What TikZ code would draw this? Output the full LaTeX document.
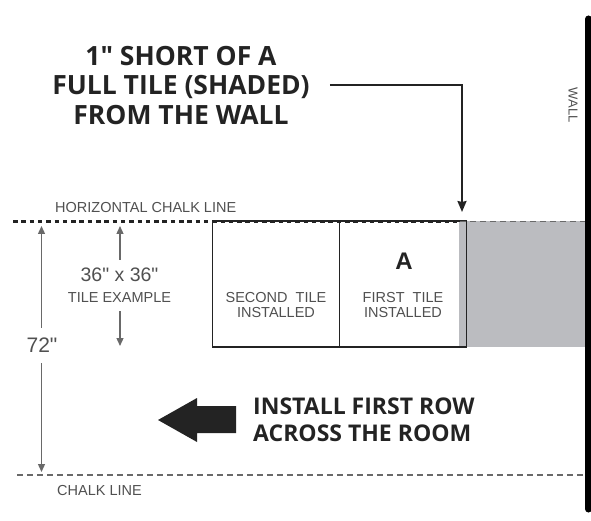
\documentclass[tikz,border=0pt]{standalone}
\usepackage{fontspec}
\setmainfont{Liberation Sans}[Ligatures=TeXOff]
\newfontfamily\headfont{Open Sans}
\usetikzlibrary{arrows.meta,positioning}
\definecolor{ink}{RGB}{35,35,35}
\definecolor{shade}{RGB}{187,188,192}
\definecolor{labelgray}{RGB}{80,80,80}
\definecolor{dimgray}{RGB}{105,105,105}

\begin{document}
\begin{tikzpicture}[x=1pt,y=-1pt,
    headtxt/.style={font=\headfont\bfseries\fontsize{26.5}{29.5}\selectfont,
      text=ink,inner sep=0pt},
    smalltxt/.style={font=\fontsize{14.5}{15}\selectfont,text=labelgray,inner sep=0pt},
    sizetxt/.style={font=\fontsize{19.5}{20}\selectfont,text=labelgray,inner sep=0pt},
    tilebox/.style={draw=ink,line width=1.4pt,minimum width=127pt,
      minimum height=126pt,inner sep=0pt},
    dimline/.style={dimgray,line width=1.3pt,-{Triangle[width=7pt,length=8pt]}},
    chalkdots/.style={ink,line width=3.4pt,dash pattern=on 4.5pt off 3.8pt},
    chalkdash/.style={dimgray,line width=1.8pt,dash pattern=on 6pt off 4pt},
    leader/.style={ink,line width=2pt,-{Stealth[length=11pt,width=9pt,inset=1pt]}}]
  \useasboundingbox (0,0) rectangle (591,521);

  % heading and leader
  \node[headtxt,align=center] (head) at (181,85.5)
    {1" SHORT OF A\\FULL TILE (SHADED)\\FROM THE WALL};
  \coordinate (leadtip) at (462,212);
  \draw[leader] ([xshift=20pt]head.east) -| (leadtip);

  % wall
  \coordinate (walltop) at (588.5,19);
  \coordinate (wallbot) at (588.5,509);
  \draw[black,line width=7pt,line cap=round] (walltop) -- (wallbot);
  \node[smalltxt,font=\fontsize{13}{13}\selectfont,rotate=-90] (walllbl) at (573,105) {WALL};

  % tiles
  \node[fill=shade,minimum width=126pt,minimum height=126pt,inner sep=0pt,
    anchor=west] (fulltile) at (459,284) {};
  \node[tilebox] (tile2) at (276,284) {};
  \node[tilebox] (tile1) at (403,284) {};
  \node[font=\bfseries\fontsize{24}{24}\selectfont,text=ink,inner sep=0pt]
    (mark) at (404,261.5) {A};
  \node[smalltxt,align=center] (lbl2) at ([yshift=-21pt]tile2.center)
    {SECOND\ \ TILE\\INSTALLED};
  \node[smalltxt,align=center] (lbl1) at ([yshift=-21pt]tile1.center)
    {FIRST\ \ TILE\\INSTALLED};

  % horizontal chalk line
  \coordinate (hleft) at (13,221.5);
  \coordinate (hmid) at (460,221.5);
  \coordinate (hright) at (585,221.5);
  \draw[chalkdash] (hmid) -- (hright);
  \draw[chalkdots] (hleft) -- (hmid);
  \node[smalltxt,anchor=west] (hlabel) at (55,207.5) {HORIZONTAL CHALK LINE};

  % lower chalk line
  \coordinate (bleft) at (17,475);
  \coordinate (bright) at (585,475);
  \draw[chalkdash] (bleft) -- (bright);
  \node[smalltxt,anchor=west] (blabel) at (57,491) {CHALK LINE};

  % 72" dimension
  \coordinate (top72) at (41.5,226);
  \coordinate (bot72) at (41.5,472);
  \node[sizetxt,font=\fontsize{21}{21}\selectfont] (l72) at (42,345.5) {72"};
  \draw[dimline] ([yshift=10pt]l72.north -| top72) -- (top72);
  \draw[dimline] ([yshift=-10pt]l72.south -| bot72) -- (bot72);

  % 36" tile example
  \coordinate (top36) at (120,226);
  \coordinate (bot36) at (120,346);
  \node[sizetxt] (size36) at (119.5,275) {36" x 36"};
  \node[smalltxt,below=10pt of size36] (tileex) {TILE EXAMPLE};
  \draw[dimline] ([yshift=8pt]size36.north -| top36) -- (top36);
  \draw[dimline] ([yshift=-9pt]tileex.south -| bot36) -- (bot36);

  % direction arrow
  \fill[ink] (158,420) -- (197,398) -- (197,406) -- (236,406) -- (236,433)
    -- (197,433) -- (197,442) -- cycle;
  \node[headtxt,font=\headfont\bfseries\fontsize{23}{27}\selectfont,
    align=left,anchor=west] (install) at (253,420)
    {INSTALL FIRST ROW\\ACROSS THE ROOM};
\end{tikzpicture}
\end{document}
